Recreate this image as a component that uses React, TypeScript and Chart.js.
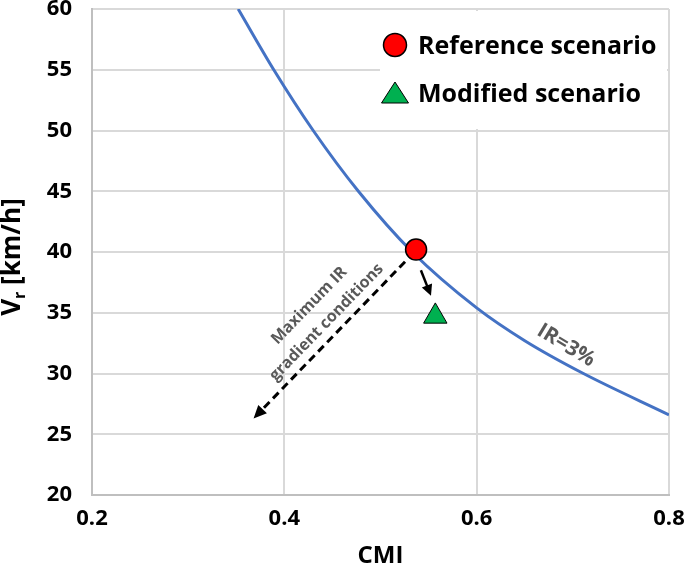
import React, { useEffect, useRef } from 'react';
import { Chart, registerables } from 'chart.js';

Chart.register(...registerables);

// ---- Data ----
const curveCMI = [0.352, 0.389, 0.43, 0.477, 0.533, 0.6, 0.65, 0.711, 0.8];
const curveVr = [60, 55, 50, 45, 40, 35.4, 32.7, 30, 26.6];

const referenceCMI = [0.537];
const referenceVr = [40.2];
const modifiedCMI = [0.557];
const modifiedVr = [34.7];

const gradientArrowCMI = [0.5255, 0.368];
const gradientArrowVr = [39.2, 26.3];
const shiftArrowCMI = [0.542, 0.5525];
const shiftArrowVr = [38.5, 36.4];

const curveLabel = 'IR=3%';
const curveLabelPos = [0.693, 32.3];
const gradientLabel = ['Maximum IR', 'gradient conditions'];
const gradientLabelPos = [0.435, 34.9];

const xTicks = [0.2, 0.4, 0.6, 0.8];
const yTicks = [20, 25, 30, 35, 40, 45, 50, 55, 60];
const seriesNames = ['IR=3%', 'Reference scenario', 'Modified scenario'];

const FONT = '"Open Sans", "Liberation Sans", sans-serif';

function drawArrow(ctx: CanvasRenderingContext2D, x1: number, y1: number, x2: number, y2: number, dash: number[], width: number, headLen: number, headHalf: number) {
  const dx = x2 - x1;
  const dy = y2 - y1;
  const len = Math.hypot(dx, dy);
  const ux = dx / len;
  const uy = dy / len;
  const bx = x2 - ux * headLen;
  const by = y2 - uy * headLen;
  ctx.save();
  ctx.strokeStyle = '#000';
  ctx.fillStyle = '#000';
  ctx.lineWidth = width;
  ctx.setLineDash(dash);
  ctx.beginPath();
  ctx.moveTo(x1, y1);
  ctx.lineTo(bx + ux * 2, by + uy * 2);
  ctx.stroke();
  ctx.setLineDash([]);
  ctx.beginPath();
  ctx.moveTo(x2, y2);
  ctx.lineTo(bx - uy * headHalf, by + ux * headHalf);
  ctx.lineTo(bx + uy * headHalf, by - ux * headHalf);
  ctx.closePath();
  ctx.fill();
  ctx.restore();
}

const overlayPlugin = {
  id: 'overlay',
  afterDatasetsDraw(chart: any) {
    const ctx: CanvasRenderingContext2D = chart.ctx;
    const xs = chart.scales.x;
    const ys = chart.scales.y;
    const px = (v: number) => xs.getPixelForValue(v);
    const py = (v: number) => ys.getPixelForValue(v);

    // arrows
    drawArrow(ctx, px(gradientArrowCMI[0]), py(gradientArrowVr[0]), px(gradientArrowCMI[1]), py(gradientArrowVr[1]), [8, 5], 3, 13, 6);
    drawArrow(ctx, px(shiftArrowCMI[0]), py(shiftArrowVr[0]), px(shiftArrowCMI[1]), py(shiftArrowVr[1]), [], 2.5, 11, 5.5);

    // gradient label
    const ax1 = px(gradientArrowCMI[0]);
    const ay1 = py(gradientArrowVr[0]);
    const ax2 = px(gradientArrowCMI[1]);
    const ay2 = py(gradientArrowVr[1]);
    const ang = Math.atan2(ay1 - ay2, ax1 - ax2);
    ctx.save();
    ctx.translate(px(gradientLabelPos[0]), py(gradientLabelPos[1]));
    ctx.rotate(ang);
    ctx.fillStyle = '#595959';
    ctx.font = `bold 16px ${FONT}`;
    ctx.textAlign = 'center';
    ctx.textBaseline = 'middle';
    ctx.fillText(gradientLabel[0], 0, -12);
    ctx.fillText(gradientLabel[1], 0, 12);
    ctx.restore();

    // curve label
    ctx.save();
    ctx.translate(px(curveLabelPos[0]), py(curveLabelPos[1]));
    ctx.rotate((31 * Math.PI) / 180);
    ctx.fillStyle = '#595959';
    ctx.font = `bold 21px ${FONT}`;
    ctx.textAlign = 'center';
    ctx.textBaseline = 'middle';
    ctx.fillText(curveLabel, 0, 0);
    ctx.restore();

    // legend box
    const ca = chart.chartArea;
    ctx.save();
    ctx.fillStyle = '#ffffff';
    ctx.fillRect(380, ca.top + 2, ca.right - 2 - 380, 118);
    const d1 = chart.data.datasets[1];
    const d2 = chart.data.datasets[2];
    // circle
    ctx.beginPath();
    ctx.arc(395, 45, 11.5, 0, Math.PI * 2);
    ctx.fillStyle = d1.pointBackgroundColor;
    ctx.fill();
    ctx.lineWidth = 1.5;
    ctx.strokeStyle = '#000';
    ctx.stroke();
    // triangle
    ctx.beginPath();
    ctx.moveTo(395, 82);
    ctx.lineTo(408.5, 103);
    ctx.lineTo(381.5, 103);
    ctx.closePath();
    ctx.fillStyle = d2.pointBackgroundColor;
    ctx.fill();
    ctx.lineWidth = 1;
    ctx.strokeStyle = '#000';
    ctx.stroke();
    ctx.fillStyle = '#000';
    ctx.font = `bold 25px ${FONT}`;
    ctx.textAlign = 'left';
    ctx.textBaseline = 'alphabetic';
    ctx.fillText(d1.label, 418, 45 + 0.357 * 25);
    ctx.fillText(d2.label, 418, 93 + 0.357 * 25);
    ctx.restore();
  },
  afterDraw(chart: any) {
    const ctx: CanvasRenderingContext2D = chart.ctx;
    const ca = chart.chartArea;
    // x title
    ctx.save();
    ctx.fillStyle = '#000';
    ctx.font = `bold 24px ${FONT}`;
    ctx.textAlign = 'center';
    ctx.textBaseline = 'alphabetic';
    ctx.fillText('CMI', (ca.left + ca.right) / 2, 563);
    ctx.restore();

    // y title with subscript
    ctx.save();
    ctx.translate(11, 257);
    ctx.rotate(-Math.PI / 2);
    ctx.fillStyle = '#000';
    ctx.textBaseline = 'alphabetic';
    ctx.textAlign = 'left';
    const big = `bold 26px ${FONT}`;
    const small = `bold 16px ${FONT}`;
    ctx.font = big;
    const wV = ctx.measureText('V').width;
    const wRest = ctx.measureText(' [km/h]').width;
    ctx.font = small;
    const wr = ctx.measureText('r').width;
    const total = wV + wr + wRest;
    let x = -total / 2;
    const base = 0.357 * 26;
    ctx.font = big;
    ctx.fillText('V', x, base);
    x += wV;
    ctx.font = small;
    ctx.fillText('r', x, base + 5);
    x += wr;
    ctx.font = big;
    ctx.fillText(' [km/h]', x, base);
    ctx.restore();
  },
};

export default function App() {
  const canvasRef = useRef<HTMLCanvasElement | null>(null);

  useEffect(() => {
    document.body.style.margin = '0';
    const canvas = canvasRef.current;
    if (!canvas) return;
    const chart = new Chart(canvas, {
      type: 'scatter',
      data: {
        datasets: [
          {
            label: seriesNames[0],
            data: curveCMI.map((x, i) => ({ x, y: curveVr[i] })),
            showLine: true,
            borderColor: '#4472C4',
            borderWidth: 3,
            pointRadius: 0,
            pointHoverRadius: 0,
            cubicInterpolationMode: 'monotone',
            order: 3,
          },
          {
            label: seriesNames[1],
            data: referenceCMI.map((x, i) => ({ x, y: referenceVr[i] })),
            pointStyle: 'circle',
            pointRadius: 10.5,
            pointBackgroundColor: '#FF0000',
            pointBorderColor: '#000000',
            pointBorderWidth: 1.5,
            order: 1,
          },
          {
            label: seriesNames[2],
            data: modifiedCMI.map((x, i) => ({ x, y: modifiedVr[i] })),
            pointStyle: 'triangle',
            pointRadius: 13.5,
            pointBackgroundColor: '#00B050',
            pointBorderColor: '#000000',
            pointBorderWidth: 1,
            order: 2,
          },
        ],
      } as any,
      options: {
        animation: false,
        responsive: false,
        maintainAspectRatio: false,
        events: [],
        layout: { autoPadding: false, padding: { top: 9, right: 16, left: 0, bottom: 0 } },
        plugins: {
          legend: { display: false },
          tooltip: { enabled: false },
        },
        scales: {
          x: {
            type: 'linear',
            min: 0.2,
            max: 0.8,
            afterBuildTicks: (scale: any) => {
              scale.ticks = xTicks.map((v) => ({ value: v }));
            },
            afterFit: (scale: any) => {
              scale.height = 69;
              scale.paddingLeft = 0;
              scale.paddingRight = 0;
            },
            grid: { color: '#d9d9d9', lineWidth: 2, drawTicks: false },
            border: { color: '#bfbfbf', width: 2 },
            ticks: {
              padding: 13,
              color: '#000',
              font: { family: FONT, size: 22, weight: 'bold', lineHeight: 1 },
              callback: (v: any) => Number(v).toFixed(1),
            },
          },
          y: {
            type: 'linear',
            min: 20,
            max: 60,
            afterBuildTicks: (scale: any) => {
              scale.ticks = yTicks.map((v) => ({ value: v }));
            },
            afterFit: (scale: any) => {
              scale.width = 92;
              scale.paddingTop = 0;
              scale.paddingBottom = 0;
            },
            grid: { color: '#d9d9d9', lineWidth: 2, drawTicks: false },
            border: { color: '#bfbfbf', width: 2 },
            ticks: {
              padding: 20,
              color: '#000',
              font: { family: FONT, size: 22, weight: 'bold', lineHeight: 0.8 },
              callback: (v: any) => String(v),
            },
          },
        },
      } as any,
      plugins: [overlayPlugin],
    });
    return () => chart.destroy();
  }, []);

  return (
    <div style={{ width: 685, height: 564 }}>
      <canvas ref={canvasRef} width={685} height={564} style={{ display: 'block', width: 685, height: 564 }} />
    </div>
  );
}
